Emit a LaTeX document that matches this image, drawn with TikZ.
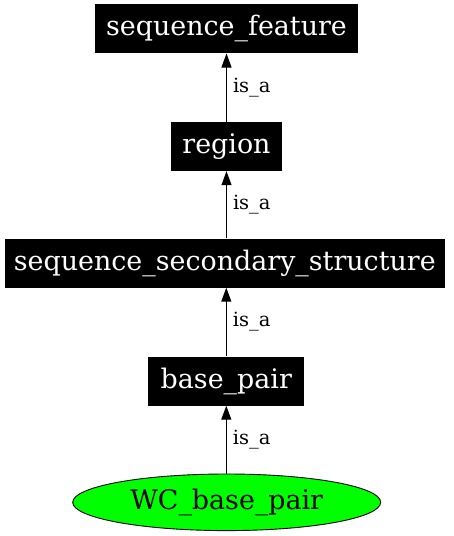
\documentclass[tikz,border=0pt]{standalone}
\usepackage{fontspec}
\setmainfont{DejaVu Serif}
\usetikzlibrary{arrows.meta,shapes.geometric}
\begin{document}
\begin{tikzpicture}[x=1pt,y=-1pt,
  box/.style={fill=black,text=white,inner sep=0pt,minimum height=49pt,font=\fontsize{26.9}{30}\selectfont},
  ell/.style={ellipse,draw=black,line width=0.9pt,fill={rgb,255:red,0;green,255;blue,0},inner sep=0pt,minimum width=308pt,minimum height=56.6pt,font=\fontsize{26.9}{30}\selectfont},
  isa/.style={draw=black,line width=1pt,-{Triangle[length=14pt,width=10pt]}},
  lbl/.style={midway,anchor=west,inner sep=0pt,xshift=6pt,font=\fontsize{19.5}{22}\selectfont}]
\useasboundingbox (0,0) rectangle (453,536);
\fill[white] (0,0) rectangle (453,536);
\node[box,minimum width=263pt] (sf) at (226.5,28.8) {sequence\_feature};
\node[box,minimum width=111pt] (rg) at (226.5,146.5) {region};
\node[box,minimum width=440pt] (ss) at (224.8,263) {sequence\_secondary\_structure};
\node[box,minimum width=156pt] (bp) at (226.3,381) {base\_pair};
\node[ell] (wc) at (226.7,502.3) {WC\_base\_pair};
\draw[isa] (wc.north -| bp.south) -- (bp.south) node[lbl] {is\_a};
\draw[isa] (bp.north) -- (ss.south -| bp.north) node[lbl] {is\_a};
\draw[isa] (ss.north -| rg.south) -- (rg.south) node[lbl] {is\_a};
\draw[isa] (rg.north) -- (sf.south -| rg.north) node[lbl] {is\_a};
\end{tikzpicture}
\end{document}
